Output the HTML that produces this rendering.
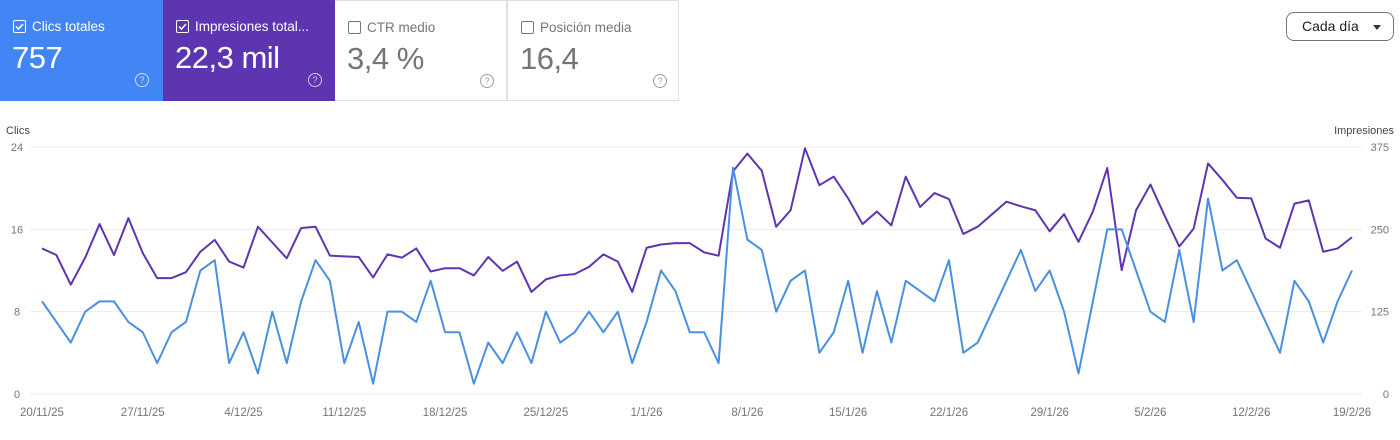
<!DOCTYPE html>
<html><head><meta charset="utf-8"><style>
body{margin:0;width:1400px;height:440px;background:#fff;font-family:"Liberation Sans",sans-serif;overflow:hidden;position:relative}
.card{position:absolute;top:0;height:101px;box-sizing:border-box}
.t{position:absolute;left:13px;top:19px;font-size:13.5px;display:flex;align-items:center;gap:6px}
.cb{width:11px;height:11px;border:1.5px solid currentColor;border-radius:2px;display:inline-block;position:relative}
.v{position:absolute;left:12px;top:40px;font-size:31px;letter-spacing:-0.5px}
.h{position:absolute;left:135px;top:73px;width:12px;height:12px;border:1.3px solid currentColor;border-radius:50%;font-size:9px;text-align:center;line-height:12px;opacity:.7}
</style></head><body>
<div class="card" style="left:0;width:163px;background:#4285f4;color:#fff">
<div class="t"><span class="cb"><svg width="11" height="11" style="position:absolute;left:0;top:0"><path d="M2 5.5l2.5 2.5 4.5-5" stroke="#fff" stroke-width="1.5" fill="none"/></svg></span>Clics totales</div>
<div class="v">757</div><div class="h">?</div></div>
<div class="card" style="left:163px;width:172px;background:#5e35b1;color:#fff">
<div class="t"><span class="cb"><svg width="11" height="11" style="position:absolute;left:0;top:0"><path d="M2 5.5l2.5 2.5 4.5-5" stroke="#fff" stroke-width="1.5" fill="none"/></svg></span>Impresiones total...</div>
<div class="v">22,3 mil</div><div class="h" style="left:145px">?</div></div>
<div class="card" style="left:335px;width:172px;border:1px solid #e0e0e0;border-left:none;color:#757575">
<div class="t" style="color:#757575"><span class="cb"></span>CTR medio</div>
<div class="v">3,4 %</div><div class="h" style="left:145px">?</div></div>
<div class="card" style="left:507px;width:172px;border:1px solid #e0e0e0;color:#757575">
<div class="t"><span class="cb"></span>Posición media</div>
<div class="v">16,4</div><div class="h" style="left:145px">?</div></div>
<div style="position:absolute;left:1286px;top:12px;width:108px;height:29px;box-sizing:border-box;border:1px solid #757575;border-radius:8px;font-size:14px;color:#202124;line-height:27px;padding-left:15px">Cada día<span style="position:absolute;right:12px;top:12px;border-left:4px solid transparent;border-right:4px solid transparent;border-top:5px solid #333"></span></div>
<svg id="chart" width="1400" height="440" style="position:absolute;left:0;top:0"></svg>
<script>
const dates=["20/11/25","27/11/25","4/12/25","11/12/25","18/12/25","25/12/25","1/1/26","8/1/26","15/1/26","22/1/26","29/1/26","5/2/26","12/2/26","19/2/26"];
const leftTicks=[0,8,16,24];
const rightTicks=[0,125,250,375];
const clicks=[9,7,5,8,9,9,7,6,3,6,7,12,13,3,6,2,8,3,9,13,11,3,7,1,8,8,7,11,6,6,1,5,3,6,3,8,5,6,8,6,8,3,7,12,10,6,6,3,22,15,14,8,11,12,4,6,11,4,10,5,11,10,9,13,4,5,8,11,14,10,12,8,2,9,16,16,12,8,7,14,7,19,12,13,10,7,4,11,9,5,9,12];
const impressions=[221,211,166,207,258,211,267,214,176,176,185,216,234,201,192,254,230,206,252,254,210,209,208,177,212,207,221,186,191,191,180,208,187,201,155,174,180,182,193,212,201,155,222,227,229,229,215,210,338,365,339,254,279,373,317,330,297,258,277,256,330,284,305,296,243,254,273,292,285,279,247,273,231,277,343,188,279,318,270,224,251,350,325,298,297,236,222,289,294,216,221,238];
const svg=document.getElementById('chart');const NS="http://www.w3.org/2000/svg";
const x0=42,x1=1352,yb=394,yt=147;
const xs=i=>x0+(x1-x0)*i/(clicks.length-1);
const yL=v=>yb-(yb-yt)*v/24;
const yR=v=>yb-(yb-yt)*v/375;
function mk(t,a,txt){const e=document.createElementNS(NS,t);for(const k in a)e.setAttribute(k,a[k]);if(txt!==undefined)e.textContent=txt;svg.appendChild(e);return e;}
leftTicks.forEach((v,i)=>{
const g=mk('line',{x1:30,x2:1362,y1:yL(v),y2:yL(v),stroke:'#ebebeb','stroke-width':1});


const t=mk('text',{x:17,y:yL(v)+4,'text-anchor':'middle','font-size':11,fill:'#757575'},v);


const r=mk('text',{x:1389,y:yR(rightTicks[i])+4,'text-anchor':'end','font-size':11,fill:'#757575'},rightTicks[i]);


});
const lt=mk('text',{x:6,y:134,'font-size':11,fill:'#444'},'Clics');


const rt=mk('text',{x:1394,y:134,'text-anchor':'end','font-size':11,fill:'#444'},'Impresiones');


dates.forEach((d,i)=>{
const t=mk('text',{x:xs(i*7),y:416,'text-anchor':'middle','font-size':11.5,fill:'#757575'},d);


});
const pi=mk('polyline',{points:impressions.map((v,i)=>xs(i)+','+yR(v)).join(' '),fill:'none',stroke:'#5e35b1','stroke-width':2,'stroke-linejoin':'round'});


const pc=mk('polyline',{points:clicks.map((v,i)=>xs(i)+','+yL(v)).join(' '),fill:'none',stroke:'#4a90e2','stroke-width':2,'stroke-linejoin':'round'});


</script>
</body></html>
